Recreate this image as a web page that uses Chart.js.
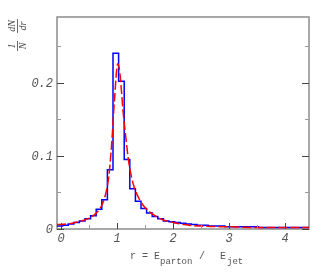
<!DOCTYPE html>
<html>
<head>
<meta charset="utf-8">
<script src="https://cdn.jsdelivr.net/npm/chart.js@4"></script>
<style>
  html, body { margin: 0; padding: 0; background: #fff; }
  #wrap { width: 332px; height: 273px; }
</style>
</head>
<body>
<div id="wrap"><canvas id="rChart" width="332" height="273"></canvas></div>
<script>
// histogram: 45 bins of 0.1 starting at r = -0.075
const binStart = -0.075;
const binWidth = 0.1;
const histValues = [
  0.004, 0.005, 0.007, 0.009, 0.011, 0.014, 0.018, 0.027, 0.040, 0.081,
  0.2405, 0.202, 0.095, 0.055, 0.038, 0.028, 0.022, 0.017, 0.014, 0.011,
  0.010, 0.009, 0.008, 0.007, 0.006, 0.005, 0.005, 0.004, 0.004, 0.004,
  0.003, 0.003, 0.003, 0.003, 0.003, 0.003, 0.002, 0.002, 0.002, 0.002,
  0.002, 0.002, 0.002, 0.002, 0.002
];

// fitted curve (red dashed)
const fitR = [-0.075, 0.1, 0.2, 0.3, 0.4, 0.5, 0.6, 0.7, 0.75, 0.8, 0.85, 0.9, 0.95,
  1.01, 1.04, 1.07, 1.1, 1.15, 1.2, 1.25, 1.3, 1.4, 1.5, 1.6, 1.7, 1.8, 2.0, 2.2, 2.5,
  3.0, 3.5, 4.0, 4.425];
const fitValues = [0.006, 0.007, 0.008, 0.010, 0.012, 0.015, 0.020, 0.029, 0.037, 0.050,
  0.072, 0.115, 0.175, 0.226, 0.218, 0.195, 0.165, 0.128, 0.095, 0.073, 0.058, 0.040,
  0.029, 0.022, 0.017, 0.013, 0.009, 0.006, 0.004, 0.003, 0.002, 0.002, 0.002];

const xMajor = [0, 1, 2, 3, 4];
const xMinor = [0.5, 1.5, 2.5, 3.5];
const yMajor = [0, 0.1, 0.2];
const yMinor = [0.05, 0.15, 0.25];
const xLabels = ['0', '1', '2', '3', '4'];
const yLabels = ['0', '0.1', '0.2'];

const histPoints = histValues.map((v, i) => ({ x: binStart + i * binWidth, y: v }));
histPoints.push({ x: binStart + histValues.length * binWidth, y: histValues[histValues.length - 1] });
const fitPoints = fitR.map((r, i) => ({ x: r, y: fitValues[i] }));

const frameColor = '#8c8c8c';
const tickFont = 'italic 12px "Liberation Mono", monospace';

const rootAxes = {
  id: 'rootAxes',
  beforeDatasetsDraw(chart) {
    const { ctx, chartArea: a } = chart;
    ctx.save();
    ctx.strokeStyle = frameColor;
    ctx.lineWidth = 1.5;
    ctx.strokeRect(a.left, a.top, a.right - a.left, a.bottom - a.top);
    ctx.restore();
  },
  afterDatasetsDraw(chart) {
    const { ctx, chartArea: a, scales } = chart;
    const xs = scales.x, ys = scales.y;
    ctx.save();
    ctx.lineWidth = 1;
    // y ticks, left and right, pointing inward
    yMajor.forEach(v => {
      const py = Math.round(ys.getPixelForValue(v)) + 0.5;
      ctx.strokeStyle = '#444';
      ctx.beginPath();
      ctx.moveTo(a.left, py); ctx.lineTo(a.left + 7, py);
      ctx.moveTo(a.right, py); ctx.lineTo(a.right - 7, py);
      ctx.stroke();
    });
    yMinor.forEach(v => {
      const py = Math.round(ys.getPixelForValue(v)) + 0.5;
      ctx.strokeStyle = '#999';
      ctx.beginPath();
      ctx.moveTo(a.left, py); ctx.lineTo(a.left + 4, py);
      ctx.moveTo(a.right, py); ctx.lineTo(a.right - 4, py);
      ctx.stroke();
    });
    // x ticks on the bottom, pointing up
    xMajor.forEach(v => {
      const px = Math.round(xs.getPixelForValue(v)) + 0.5;
      ctx.strokeStyle = '#444';
      ctx.beginPath();
      ctx.moveTo(px, a.bottom); ctx.lineTo(px, a.bottom - 6);
      ctx.stroke();
    });
    xMinor.forEach(v => {
      const px = Math.round(xs.getPixelForValue(v)) + 0.5;
      ctx.strokeStyle = '#999';
      ctx.beginPath();
      ctx.moveTo(px, a.bottom); ctx.lineTo(px, a.bottom - 4);
      ctx.stroke();
    });

    // tick labels
    ctx.fillStyle = '#555';
    ctx.font = tickFont;
    ctx.textAlign = 'right';
    ctx.textBaseline = 'middle';
    yMajor.forEach((v, i) => {
      ctx.fillText(yLabels[i], a.left - 4, ys.getPixelForValue(v) + 1);
    });
    ctx.textAlign = 'center';
    ctx.textBaseline = 'top';
    xMajor.forEach((v, i) => {
      ctx.fillText(xLabels[i], xs.getPixelForValue(v), a.bottom + 4);
    });

    // x title: r = E_parton / E_jet
    ctx.fillStyle = '#555';
    ctx.textAlign = 'left';
    ctx.textBaseline = 'alphabetic';
    const main = '10px "Liberation Mono", monospace';
    const sub = '9px "Liberation Mono", monospace';
    ctx.font = main; ctx.fillText('r = E', 130, 259);
    ctx.font = sub; ctx.fillText('parton', 160, 264);
    ctx.font = main; ctx.fillText('/', 199, 259);
    ctx.fillText('E', 220, 259);
    ctx.font = sub; ctx.fillText('jet', 227, 264);

    // y title: (1/N) dN/dr, rotated
    ctx.save();
    ctx.translate(17, 34);
    ctx.rotate(-Math.PI / 2);
    ctx.fillStyle = '#444';
    ctx.strokeStyle = '#444';
    ctx.font = 'italic 10px "Liberation Serif", serif';
    ctx.textAlign = 'center';
    ctx.textBaseline = 'alphabetic';
    ctx.fillText('1', -12, -2);
    ctx.fillText('N', -12, 9);
    ctx.fillText('dN', 8, -2);
    ctx.fillText('dr', 8, 9);
    ctx.lineWidth = 0.8;
    ctx.beginPath();
    ctx.moveTo(-17, 0.5); ctx.lineTo(-7, 0.5);
    ctx.moveTo(1, 0.5); ctx.lineTo(15, 0.5);
    ctx.stroke();
    ctx.restore();

    ctx.restore();
  }
};

const ctx = document.getElementById('rChart').getContext('2d');
new Chart(ctx, {
  type: 'line',
  data: {
    datasets: [
      {
        label: 'fit',
        data: fitPoints,
        borderColor: '#ff0000',
        borderWidth: 1.5,
        borderDash: [9, 3],
        pointRadius: 0,
        fill: false,
        cubicInterpolationMode: 'monotone',
        order: 0,
        clip: 2
      },
      {
        label: 'hist',
        data: histPoints,
        borderColor: '#0000ff',
        borderWidth: 1.5,
        stepped: 'before',
        pointRadius: 0,
        fill: false,
        order: 1,
        clip: 2
      }
    ]
  },
  options: {
    responsive: false,
    animation: false,
    layout: { padding: { left: 57, top: 17, right: 23, bottom: 44 } },
    plugins: {
      legend: { display: false },
      tooltip: { enabled: false },
      title: { display: false }
    },
    scales: {
      x: { type: 'linear', min: -0.075, max: 4.425, display: false },
      y: { type: 'linear', min: 0, max: 0.29, display: false }
    }
  },
  plugins: [rootAxes]
});
</script>
</body>
</html>
